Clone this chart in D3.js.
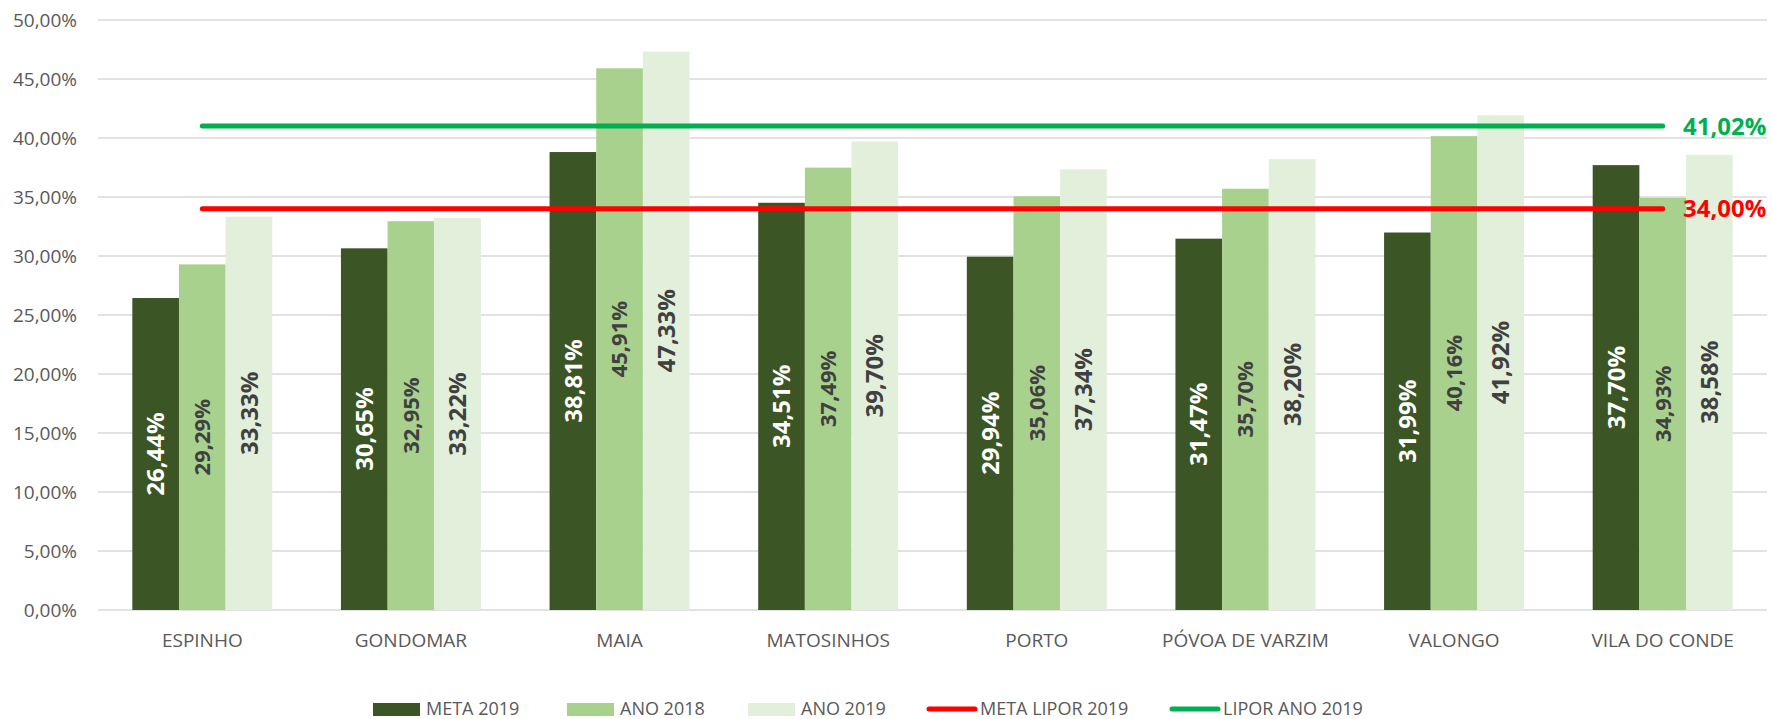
<!DOCTYPE html>
<html>
<head>
<meta charset="utf-8">
<script src="https://cdn.jsdelivr.net/npm/d3@7"></script>
<style>
  html, body { margin: 0; padding: 0; background: #fff; }
  svg { display: block; font-family: "Open Sans", "Liberation Sans", sans-serif; }
</style>
</head>
<body>
<svg id="chart" width="1772" height="719"></svg>
<script>
// Chart data
const municipios = ["ESPINHO", "GONDOMAR", "MAIA", "MATOSINHOS", "PORTO", "PÓVOA DE VARZIM", "VALONGO", "VILA DO CONDE"];
const meta2019 = [26.44, 30.65, 38.81, 34.51, 29.94, 31.47, 31.99, 37.70];
const ano2018 = [29.29, 32.95, 45.91, 37.49, 35.06, 35.70, 40.16, 34.93];
const ano2019 = [33.33, 33.22, 47.33, 39.70, 37.34, 38.20, 41.92, 38.58];
const metaLipor2019 = 34.00;
const liporAno2019 = 41.02;
const yTicks = [0, 5, 10, 15, 20, 25, 30, 35, 40, 45, 50];

const seriesNames = ["META 2019", "ANO 2018", "ANO 2019"];
const seriesValues = [meta2019, ano2018, ano2019];
const barColors = ["#3b5524", "#a9d18e", "#e2efda"];
const labelColors = ["#ffffff", "#404040", "#404040"];
const labelSizes = [24, 22, 24];

const svg = d3.select("#chart");
const plotLeft = 98, plotRight = 1767, plotTop = 20, plotBottom = 610;

// scales
const x0 = d3.scaleBand()
  .domain(municipios)
  .range([plotLeft, plotRight])
  .paddingInner(0.329)
  .paddingOuter(0.1645);

const x1 = d3.scaleBand()
  .domain(d3.range(seriesNames.length))
  .range([0, x0.bandwidth()])
  .padding(0);

const y = d3.scaleLinear().domain([0, 50]).range([plotBottom, plotTop]);

const fmt = v => d3.format(".2f")(v).replace(".", ",") + "%";

// gridlines
svg.append("g").attr("class", "grid")
  .selectAll("line")
  .data(yTicks)
  .enter().append("line")
  .attr("x1", plotLeft)
  .attr("x2", plotRight)
  .attr("y1", d => y(d))
  .attr("y2", d => y(d))
  .attr("stroke", "#d9d9d9")
  .attr("stroke-width", 1.6);

// y tick labels
svg.append("g").attr("class", "yLabels")
  .selectAll("text")
  .data(yTicks)
  .enter().append("text")
  .attr("x", 77)
  .attr("y", d => y(d) + 7)
  .attr("text-anchor", "end")
  .attr("font-size", 19)
  .attr("fill", "#595959")
  .text(d => fmt(d));

// bars, grouped by municipio
const barData = [];
municipios.forEach((m, i) => {
  seriesValues.forEach((vals, s) => {
    barData.push({ m: m, s: s, v: vals[i] });
  });
});

svg.append("g").attr("class", "bars")
  .selectAll("rect")
  .data(barData)
  .enter().append("rect")
  .attr("x", d => x0(d.m) + x1(d.s))
  .attr("y", d => y(d.v))
  .attr("width", x1.bandwidth())
  .attr("height", d => y(0) - y(d.v))
  .attr("fill", d => barColors[d.s]);

// bar value labels, rotated and centered in the bar
svg.append("g").attr("class", "barLabels")
  .selectAll("text")
  .data(barData)
  .enter().append("text")
  .attr("transform", d => {
    const cx = x0(d.m) + x1(d.s) + x1.bandwidth() / 2;
    const cy = (y(d.v) + y(0)) / 2;
    return "translate(" + cx + "," + cy + ") rotate(-90)";
  })
  .attr("text-anchor", "middle")
  .attr("dy", "0.36em")
  .attr("font-size", d => labelSizes[d.s])
  .attr("font-weight", "bold")
  .attr("fill", d => labelColors[d.s])
  .text(d => fmt(d.v));

// x labels
svg.append("g").attr("class", "xLabels")
  .selectAll("text")
  .data(municipios)
  .enter().append("text")
  .attr("x", d => x0(d) + x0.bandwidth() / 2)
  .attr("y", 647)
  .attr("text-anchor", "middle")
  .attr("font-size", 19)
  .attr("fill", "#595959")
  .text(d => d);

// reference lines from first to last category center
const refLines = [
  { name: "META LIPOR 2019", v: metaLipor2019, color: "#ff0000" },
  { name: "LIPOR ANO 2019", v: liporAno2019, color: "#00b050" }
];
const xFirst = x0(municipios[0]) + x0.bandwidth() / 2;
const xLast = x0(municipios[municipios.length - 1]) + x0.bandwidth() / 2;

refLines.forEach(r => {
  svg.append("line")
    .attr("x1", xFirst)
    .attr("x2", xLast)
    .attr("y1", y(r.v))
    .attr("y2", y(r.v))
    .attr("stroke", r.color)
    .attr("stroke-width", 5)
    .attr("stroke-linecap", "round");

  svg.append("text")
    .attr("x", 1683)
    .attr("y", y(r.v))
    .attr("dy", "0.36em")
    .attr("font-size", 24)
    .attr("font-weight", "bold")
    .attr("fill", r.color)
    .text(fmt(r.v));
});

// legend (start x of each entry)
const legendItems = [
  { name: seriesNames[0], type: "rect", color: barColors[0], x: 373 },
  { name: seriesNames[1], type: "rect", color: barColors[1], x: 567 },
  { name: seriesNames[2], type: "rect", color: barColors[2], x: 748 },
  { name: refLines[0].name, type: "line", color: refLines[0].color, x: 927 },
  { name: refLines[1].name, type: "line", color: refLines[1].color, x: 1170 }
];

const legend = svg.append("g").attr("class", "legend");
legendItems.forEach(item => {
  if (item.type === "rect") {
    legend.append("rect")
      .attr("x", item.x).attr("y", 703)
      .attr("width", 47).attr("height", 13)
      .attr("fill", item.color);
  } else {
    legend.append("line")
      .attr("x1", item.x + 2).attr("x2", item.x + 48)
      .attr("y1", 709).attr("y2", 709)
      .attr("stroke", item.color)
      .attr("stroke-width", 5)
      .attr("stroke-linecap", "round");
  }
  legend.append("text")
    .attr("x", item.x + 53)
    .attr("y", 715)
    .attr("font-size", 18)
    .attr("fill", "#595959")
    .text(item.name);
});
</script>
</body>
</html>
